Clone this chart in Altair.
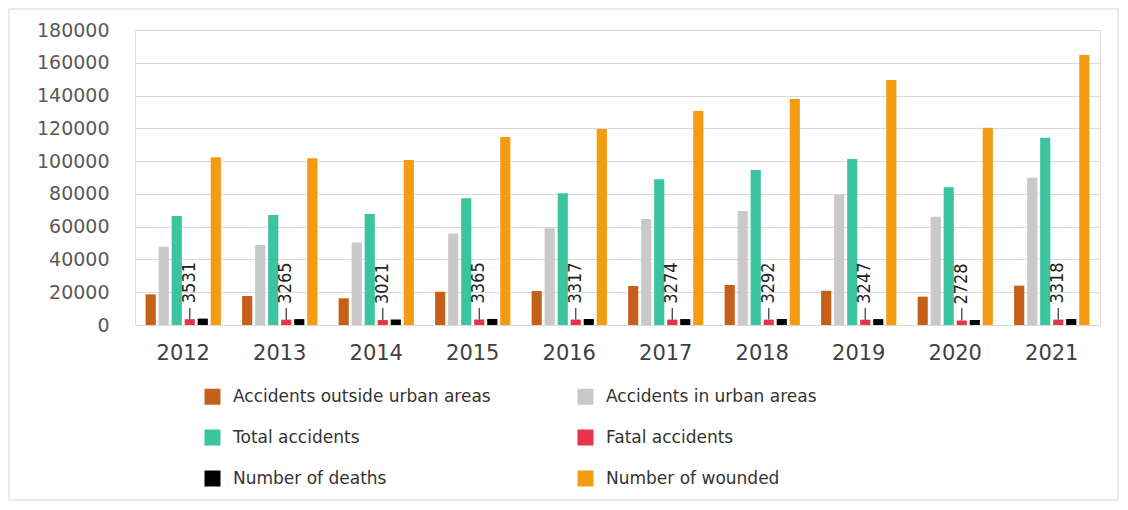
import altair as alt
import pandas as pd

years = ["2012", "2013", "2014", "2015", "2016", "2017", "2018", "2019", "2020", "2021"]
series = ["Accidents outside urban areas", "Accidents in urban areas", "Total accidents",
          "Fatal accidents", "Number of deaths", "Number of wounded"]
colors = ["#C5601A", "#C9C9C9", "#3CC3A0", "#E5334B", "#000000", "#F39C12"]

outside = [18700, 17700, 16300, 20300, 20700, 23800, 24400, 20900, 17300, 24000]
urban = [47800, 48800, 50400, 55900, 59000, 64700, 69600, 79700, 66100, 89900]
total = [66500, 67100, 67700, 77300, 80400, 88900, 94600, 101300, 84000, 114300]
fatal = [3531, 3265, 3021, 3365, 3317, 3274, 3292, 3247, 2728, 3318]
deaths = [3900, 3600, 3350, 3700, 3650, 3600, 3650, 3600, 3050, 3650]
wounded = [102300, 101700, 100700, 114700, 119600, 130600, 137900, 149500, 120400, 164700]

y_ticks = list(range(0, 180001, 20000))

values = [outside, urban, total, fatal, deaths, wounded]
rows = []
for s, vals in zip(series, values):
    for yr, v in zip(years, vals):
        rows.append({"year": yr, "series": s, "value": v})
df = pd.DataFrame(rows)
lab = pd.DataFrame({"year": years, "series": "Fatal accidents", "value": fatal,
                    "label": [str(v) for v in fatal]})

x_enc = alt.X("year:N", sort=years, title=None,
              scale=alt.Scale(paddingInner=0.22, paddingOuter=0.11),
              axis=alt.Axis(labelAngle=0, labelFont="DejaVu Sans", labelFontSize=21,
                            labelColor="#404040", labelPadding=17, ticks=False,
                            domain=False, grid=False))
xo_enc = alt.XOffset("series:N", sort=series, scale=alt.Scale(domain=series, paddingInner=0.22))
y_scale = alt.Scale(domain=[0, 180000], nice=False, zero=True)
y_axis = alt.Axis(values=y_ticks, labelFont="DejaVu Sans", labelFontSize=19,
                  labelColor="#595959", labelPadding=26, ticks=False, domain=False,
                  labelOverlap=False, labelFlush=False,
                  grid=True, gridColor="#D9D9D9", gridWidth=1.2, format="d")
y_enc = alt.Y("value:Q", scale=y_scale, title=None, axis=y_axis)

bars = alt.Chart(df).mark_bar().encode(
    x=x_enc,
    xOffset=xo_enc,
    y=y_enc,
    color=alt.Color("series:N", sort=series,
                    scale=alt.Scale(domain=series, range=colors),
                    legend=alt.Legend(title=None, orient="none", legendX=69, legendY=358,
                                      direction="horizontal", columns=2, columnPadding=86,
                                      rowPadding=23, symbolType="square", symbolSize=256,
                                      symbolStrokeWidth=0, labelFont="DejaVu Sans",
                                      labelFontSize=17, labelColor="#333333", labelOffset=12,
                                      padding=0, labelLimit=400)),
)

leader = alt.Chart(lab).mark_rule(color="#333333", strokeWidth=1.2).encode(
    x=x_enc,
    xOffset=xo_enc,
    y=y_enc,
    y2=alt.value(278),
)

labels = alt.Chart(lab).mark_text(angle=270, align="left", baseline="middle",
                                  font="DejaVu Sans Condensed", fontSize=18,
                                  color="#222222", dx=16).encode(
    x=x_enc,
    xOffset=xo_enc,
    y=y_enc,
    text="label:N",
)

frame = alt.Chart(pd.DataFrame({"a": [0]})).mark_rect(
    fill=None, stroke="#E3E3E3", strokeWidth=1.5).encode(
    x=alt.value(-126), x2=alt.value(983), y=alt.value(-21), y2=alt.value(470))

chart = alt.layer(frame, bars, leader, labels).properties(
    width=965, height=295,
    autosize=alt.AutoSizeParams(type="none"),
    padding={"left": 127, "top": 22, "right": 20, "bottom": 177},
).configure_view(stroke=None).configure(background="white")

chart.save("out.html", embed_options={"renderer": "svg", "actions": False})
